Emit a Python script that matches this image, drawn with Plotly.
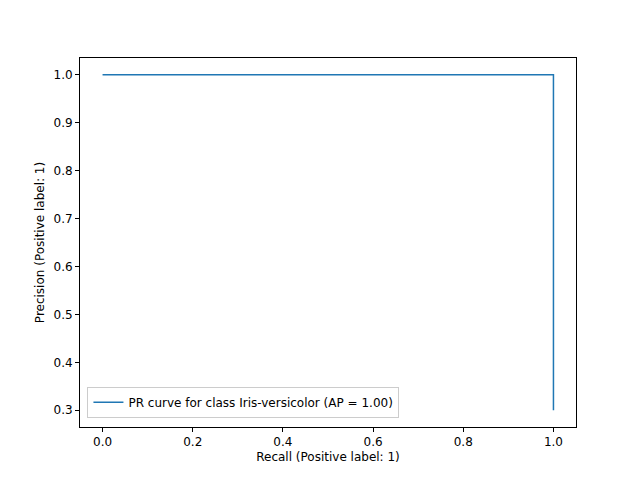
import plotly.graph_objects as go

recall = [0.0, 1.0, 1.0]
precision = [1.0, 1.0, 0.3]
label = "PR curve for class Iris-versicolor (AP = 1.00)"
ticks_x = [0.0, 0.2, 0.4, 0.6, 0.8, 1.0]
ticks_y = [0.3, 0.4, 0.5, 0.6, 0.7, 0.8, 0.9, 1.0]

fig = go.Figure()
fig.add_trace(go.Scatter(x=recall, y=precision, mode="lines", name=label,
                         line=dict(color="#1f77b4", width=1.5)))

axis_common = dict(showline=True, linecolor="black", linewidth=1, mirror=True,
                   ticks="outside", ticklen=4, tickcolor="black", showgrid=False,
                   zeroline=False, automargin=False,
                   tickfont=dict(size=12, color="black"))
fig.update_xaxes(range=[-0.05, 1.05], tickvals=ticks_x, tickformat=".1f",
                 title=dict(text="Recall (Positive label: 1)", font=dict(size=12), standoff=4),
                 **axis_common)
fig.update_yaxes(range=[0.265, 1.035], tickvals=ticks_y, tickformat=".1f",
                 title=dict(text="Precision (Positive label: 1)", font=dict(size=12), standoff=6),
                 **axis_common)
fig.update_layout(
    width=640, height=480,
    margin=dict(l=72, r=72, t=50, b=61),
    plot_bgcolor="white", paper_bgcolor="white",
    font=dict(family="DejaVu Sans", color="black"),
    showlegend=True,
    legend=dict(x=0.015, y=0.025, xanchor="left", yanchor="bottom",
                bordercolor="#cccccc", borderwidth=1, bgcolor="rgba(255,255,255,0.8)",
                font=dict(size=12)),
)
fig.write_html("out.html")
